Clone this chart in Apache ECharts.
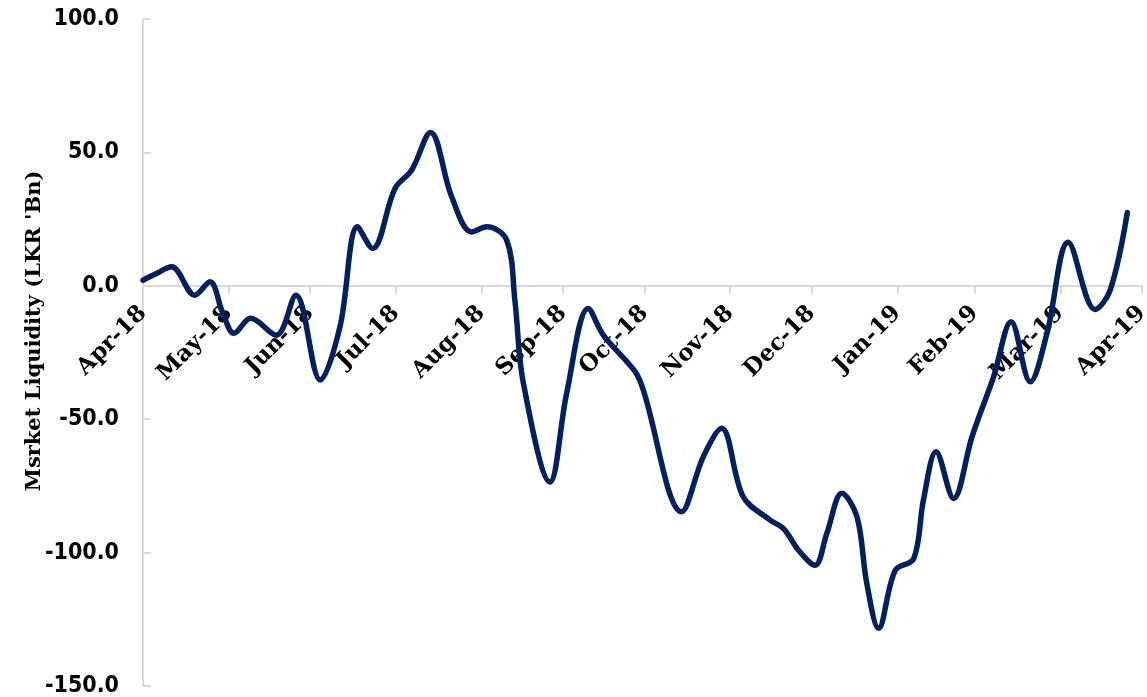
<!DOCTYPE html>
<html>
<head>
<meta charset="utf-8">
<script src="https://cdn.jsdelivr.net/npm/echarts@6/dist/echarts.min.js"></script>
<style>
html,body{margin:0;padding:0;background:#fff;}
#chart{width:1147px;height:697px;}
</style>
</head>
<body>
<div id="chart"></div>
<script>
// Trading-day index of each reading (x) and market liquidity in LKR bn (y)
const dayIndex = [0, 3.3, 7.0, 12.7, 16.4, 19.6, 22.3, 26.4, 32.7, 37.5, 43.5, 48.3, 52.6, 56.3, 61.8, 65.9, 70.5, 75.7, 80.6, 84.3, 89.2, 91.2, 93.3, 99.8, 103.9, 109.2, 112.9, 120.7, 122.7, 132.1, 137.4, 141.9, 147.2, 153.8, 157.1, 160.7, 164.8, 167.7, 171.4, 175.1, 177.5, 180.4, 184.5, 189.0, 191.4, 194.5, 198.8, 203.3, 208.6, 212.9, 217.6, 221.7, 226.9, 233.5, 237.2, 241.4];
const liquidity = [2.1, 4.6, 7.1, -3.5, 1.5, -10.4, -17.8, -12.2, -18.5, -3.5, -35.3, -15.4, 22.1, 14.0, 36.5, 43.4, 57.5, 33.4, 20.2, 22.1, 17.1, -5.4, -36.6, -73.5, -40.3, -8.5, -18.5, -32.2, -39.1, -84.7, -64.1, -53.4, -79.1, -87.8, -91.0, -99.0, -104.7, -92.8, -77.8, -86.6, -111.5, -128.4, -106.6, -102.3, -80.3, -62.2, -79.7, -56.6, -34.1, -13.5, -36.0, -17.8, 16.3, -8.9, -1.6, 27.5];
// Month labels and the trading-day index where each month starts
const monthLabels = ['Apr-18','May-18','Jun-18','Jul-18','Aug-18','Sep-18','Oct-18','Nov-18','Dec-18','Jan-19','Feb-19','Mar-19','Apr-19'];
const monthStart = [0, 21, 41, 62, 83, 103, 123, 144, 164, 185, 204, 225, 245];
const yTicks = [-150, -100, -50, 0, 50, 100];
const yTitle = "Msrket Liquidity (LKR 'Bn)";

const chart = echarts.init(document.getElementById('chart'));
const points = dayIndex.map((d, i) => [d, liquidity[i]]);
const axisGrey = '#d9d9d9';

const gridTop = 19, gridBottomPx = 686;
const yMin = yTicks[0], yMax = yTicks[yTicks.length - 1];
// distance from the bottom of the grid up to the zero line
const zeroOffset = (gridBottomPx - gridTop) * (0 - yMin) / (yMax - yMin);

chart.setOption({
  animation: false,
  backgroundColor: '#ffffff',
  grid: { left: 143, right: 5, top: gridTop, bottom: 697 - gridBottomPx, containLabel: false, outerBoundsMode: 'none' },
  xAxis: {
    type: 'value',
    min: monthStart[0],
    max: monthStart[monthStart.length - 1],
    offset: -zeroOffset,
    axisLine: { show: true, onZero: false, lineStyle: { color: axisGrey, width: 2 } },
    axisTick: { show: true, customValues: monthStart, length: 8, lineStyle: { color: axisGrey, width: 2 } },
    axisLabel: {
      customValues: monthStart,
      rotate: 45,
      margin: 24,
      formatter: function (v) { const i = monthStart.indexOf(v); return i >= 0 ? monthLabels[i] : ''; },
      color: '#000',
      fontFamily: 'DejaVu Serif',
      fontWeight: 'bold',
      fontSize: 23
    },
    splitLine: { show: false }
  },
  yAxis: {
    type: 'value',
    min: yMin,
    max: yMax,
    interval: 50,
    axisLine: { show: true, lineStyle: { color: axisGrey, width: 2 } },
    axisTick: { show: true, inside: true, length: 8, lineStyle: { color: axisGrey, width: 2 } },
    axisLabel: {
      formatter: function (v) { return v.toFixed(1); },
      margin: 24,
      color: '#000',
      fontFamily: 'DejaVu Sans Condensed, DejaVu Sans',
      fontWeight: 'bold',
      fontSize: 23
    },
    splitLine: { show: false }
  },
  graphic: [{
    type: 'text',
    x: 35,
    y: 331,
    rotation: Math.PI / 2,
    style: {
      text: yTitle,
      x: 0, y: 0,
      align: 'center',
      verticalAlign: 'middle',
      fill: '#000',
      font: 'bold 21px "DejaVu Serif", serif'
    }
  }],
  series: [{
    type: 'line',
    data: points,
    smooth: 0.35,
    showSymbol: false,
    lineStyle: { color: '#002060', width: 5.5, cap: 'round', join: 'round' },
    z: 3
  }]
});
</script>
</body>
</html>
